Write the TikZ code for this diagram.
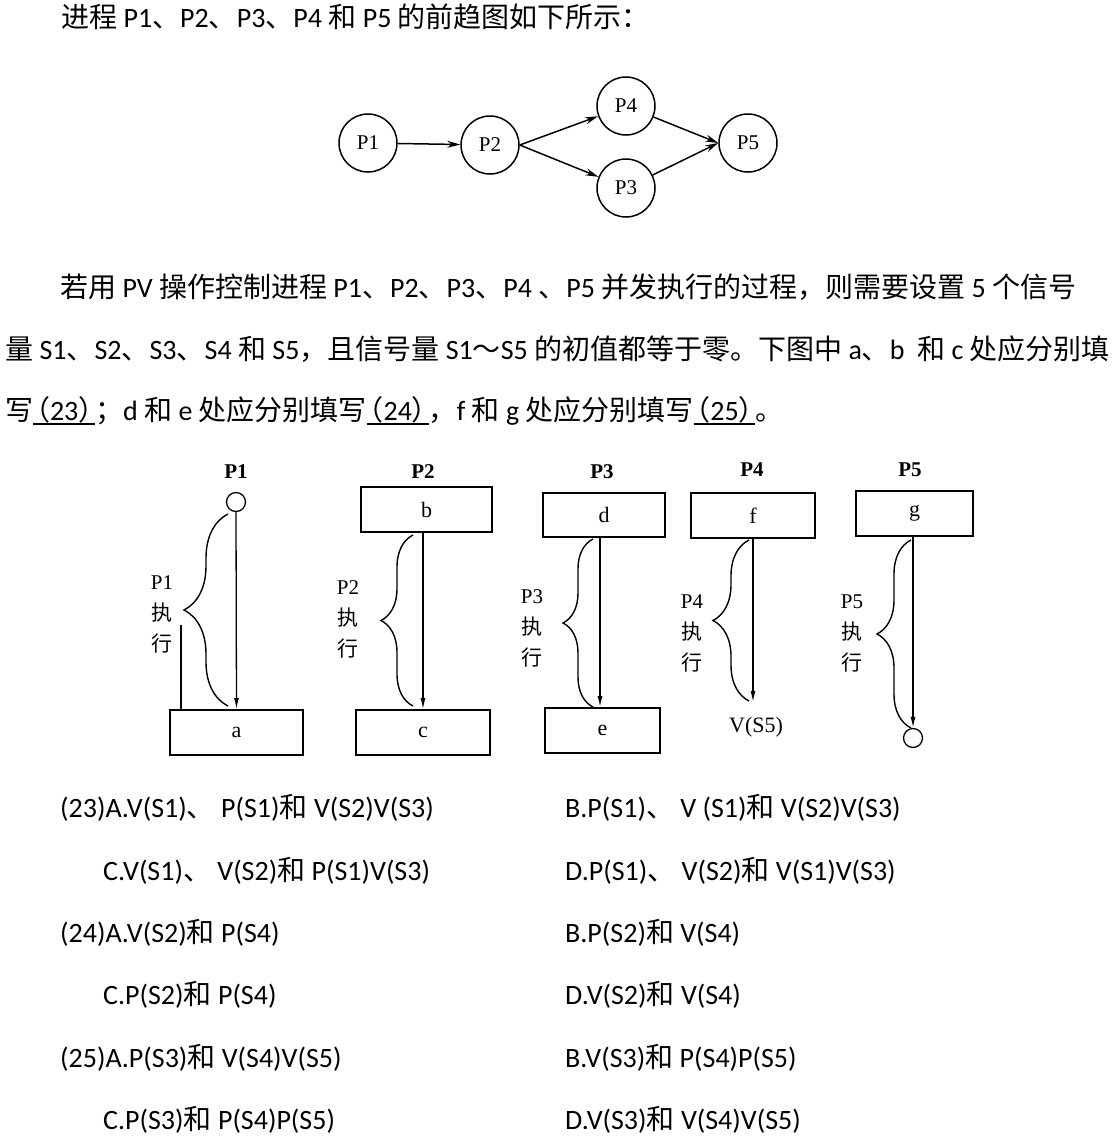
\documentclass[tikz,border=0pt]{standalone}
\usepackage{fontspec}
\setmainfont{Carlito}
\newfontfamily\cjk{Noto Sans CJK SC}
\newfontfamily\tnr{Liberation Serif}
\usetikzlibrary{decorations.pathreplacing,arrows.meta,calc}
\newcommand\cj[1]{{\cjk #1}}
\newcommand\hopen[1]{\makebox[0.6em][r]{\cjk #1}}
\newcommand\hclose[1]{\makebox[0.6em][l]{\cjk #1}}
\newcommand\myul[1]{\setbox0\hbox{#1}\rlap{\rule[-5pt]{\wd0}{1.8pt}}\box0}
\begin{document}
\begin{tikzpicture}[x=1pt,y=-1pt,
  txt/.style={anchor=base west, inner sep=0, font=\fontsize{28}{34}\selectfont},
  pc/.style={circle, draw, line width=1.5pt, minimum size=58pt, inner sep=0, font=\tnr\fontsize{21}{24}\selectfont},
  garr/.style={line width=1.5pt, -{Stealth[length=13pt, width=7pt]}},
  pbox/.style={draw, line width=1.8pt, inner sep=0, minimum height=45pt, font=\tnr\fontsize{22}{24}\selectfont},
  dot/.style={circle, draw, line width=1.3pt, minimum size=19pt, inner sep=0},
  varr/.style={line width=1.3pt, -{Latex[length=11pt, width=5pt]}},
  brc/.style={decorate, line width=1.4pt},
  plabel/.style={font=\tnr\bfseries\fontsize{21}{24}\selectfont, inner sep=0},
  ptext/.style={align=center, inner sep=0, font=\tnr\fontsize{21}{31}\selectfont},
]
\useasboundingbox (0,0) rectangle (1114,1141);
\fill[white] (0,0) rectangle (1114,1141);

% ---------- header text ----------
\node[txt] (t0) at (61,27) {\cj{进程} P1\cj{、}P2\cj{、}P3\cj{、}P4 \cj{和} P5 \cj{的前趋图如下所示：}};

% ---------- precedence graph ----------
\node[pc] (g1) at (368,143) {P1};
\node[pc] (g2) at (490,145) {P2};
\node[pc] (g4) at (626,106) {P4};
\node[pc] (g3) at (626,188) {P3};
\node[pc] (g5) at (748,143) {P5};
\draw[garr] (g1) -- (g2);
\draw[garr] (g2.east) -- (g4);
\draw[garr] (g2.east) -- (g3);
\draw[garr] (g4) -- (g5.west);
\draw[garr] (g3) -- (g5.west);

% ---------- paragraph ----------
\node[txt] (t1) at (60,297) {\cj{若用} PV \cj{操作控制进程} P1\cj{、}P2\cj{、}P3\cj{、}P4 \cj{、}P5 \cj{并发执行的过程，则需要设置} 5 \cj{个信号}};
\node[txt] (t2) at (5,359) {\cj{量} S1\cj{、}S2\cj{、}S3\cj{、}S4 \cj{和} S5\cj{，且信号量} S1\cj{～}S5 \cj{的初值都等于零。下图中} a\cj{、}b\ \ \cj{和} c \cj{处应分别填}};
\node[txt] (t3) at (5,420) {\cj{写}\myul{\hopen{（}23\hclose{）}}\cj{；}d \cj{和} e \cj{处应分别填写}\myul{\hopen{（}24\hclose{）}}\cj{，}f \cj{和} g \cj{处应分别填写}\myul{\hopen{（}25\hclose{）}}\cj{。}};

% ---------- process diagram ----------
% P1
\node[plabel] (l1) at (236,472) {P1};
\node[dot] (c1) at (236,502) {};
\node[pbox, minimum width=133pt] (a) at (236.5,732.5) {a};
\draw[varr] (c1.south) -- (a.north);
\draw[brc, decoration={brace, amplitude=44pt, aspect=0.5}] (228,706) -- (228,514);
\node[ptext] (x1) at (162,614) {P1\\\cj{执}\\\cj{行}};
\coordinate (s1) at (181,625);
\draw[line width=1.3pt] (s1) -- (s1 |- a.north);

% P2
\node[plabel] (l2) at (423,472) {P2};
\node[pbox, minimum width=131pt] (b) at (426.5,509.5) {b};
\node[pbox, minimum width=134pt] (c) at (423,732.5) {c};
\draw[varr] (b.south -| c.north) -- (c.north);
\draw[brc, decoration={brace, amplitude=32pt, aspect=0.5}] (413,706) -- (413,535);
\node[ptext] (x2) at (348,619) {P2\\\cj{执}\\\cj{行}};

% P3
\node[plabel] (l3) at (602,472) {P3};
\node[pbox, minimum width=122pt, minimum height=44pt] (d) at (604,515) {d};
\node[pbox, minimum width=115pt] (e) at (602.5,730.5) {e};
\draw[varr] (d.south -| 600,0) -- (e.north -| 600,0);
\draw[brc, decoration={brace, amplitude=30pt, aspect=0.5}] (593,707) -- (593,539);
\node[ptext] (x3) at (532,628) {P3\\\cj{执}\\\cj{行}};

% P4
\node[plabel] (l4) at (752,470) {P4};
\node[pbox, minimum width=124pt] (f) at (753,515.5) {f};
\coordinate (f4end) at (753,702);
\draw[varr] (f.south) -- (f4end);
\draw[brc, decoration={brace, amplitude=36pt, aspect=0.5}] (749,701) -- (749,540);
\node[ptext] (x4) at (692,633) {P4\\\cj{执}\\\cj{行}};
\node[font=\tnr\fontsize{22}{24}\selectfont, inner sep=0] (vs5) at (756,727) {V(S5)};

% P5
\node[plabel] (l5) at (910,470) {P5};
\node[pbox, minimum width=117pt] (g) at (914.5,513.5) {g};
\node[dot] (c5) at (913,738) {};
\draw[varr] (g.south -| c5.north) -- (c5.north);
\draw[brc, decoration={brace, amplitude=34pt, aspect=0.5}] (911,728) -- (911,540);
\node[ptext] (x5) at (852,633) {P5\\\cj{执}\\\cj{行}};

% ---------- options ----------
\node[txt] (o1) at (60,817) {(23)A.V(S1)\cj{、} P(S1)\cj{和} V(S2)V(S3)};
\node[txt] (o2) at (565,817) {B.P(S1)\cj{、} V (S1)\cj{和} V(S2)V(S3)};
\node[txt] (o3) at (103,880) {C.V(S1)\cj{、} V(S2)\cj{和} P(S1)V(S3)};
\node[txt] (o4) at (565,880) {D.P(S1)\cj{、} V(S2)\cj{和} V(S1)V(S3)};
\node[txt] (o5) at (60,942) {(24)A.V(S2)\cj{和} P(S4)};
\node[txt] (o6) at (565,942) {B.P(S2)\cj{和} V(S4)};
\node[txt] (o7) at (103,1004) {C.P(S2)\cj{和} P(S4)};
\node[txt] (o8) at (565,1004) {D.V(S2)\cj{和} V(S4)};
\node[txt] (o9) at (60,1067) {(25)A.P(S3)\cj{和} V(S4)V(S5)};
\node[txt] (o10) at (565,1067) {B.V(S3)\cj{和} P(S4)P(S5)};
\node[txt] (o11) at (103,1129) {C.P(S3)\cj{和} P(S4)P(S5)};
\node[txt] (o12) at (565,1129) {D.V(S3)\cj{和} V(S4)V(S5)};
\end{tikzpicture}
\end{document}
